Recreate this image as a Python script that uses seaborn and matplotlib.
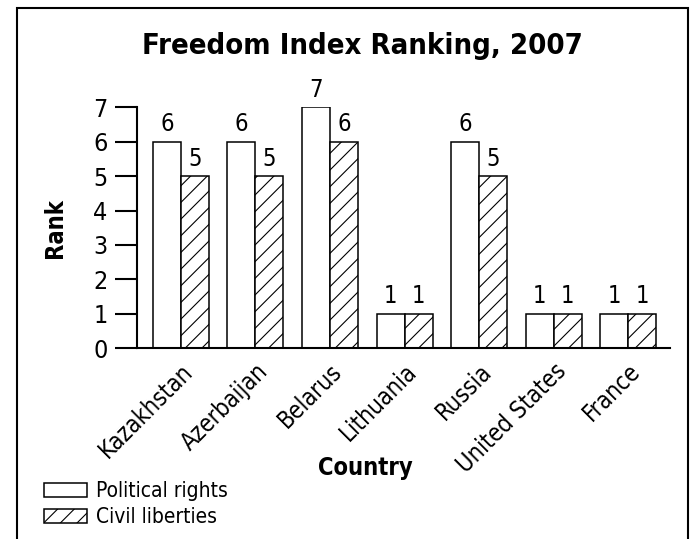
import matplotlib
matplotlib.use("Agg")
import matplotlib.pyplot as plt
from matplotlib.patches import Patch, Rectangle
import pandas as pd
import seaborn as sns

# Data
countries = ["Kazakhstan", "Azerbaijan", "Belarus", "Lithuania", "Russia", "United States", "France"]
political_rights = [6, 6, 7, 1, 6, 1, 1]
civil_liberties = [5, 5, 6, 1, 5, 1, 1]
series_names = ["Political rights", "Civil liberties"]
y_ticks = [0, 1, 2, 3, 4, 5, 6, 7]

df = pd.DataFrame({
    "Country": countries * 2,
    "Rank": political_rights + civil_liberties,
    "Series": [series_names[0]] * len(countries) + [series_names[1]] * len(countries),
})

sns.set_theme(style="white")
plt.rcParams["font.family"] = ["DejaVu Sans"]
plt.rcParams["font.stretch"] = "condensed"
plt.rcParams["text.color"] = "black"
plt.rcParams["axes.labelcolor"] = "black"
plt.rcParams["xtick.color"] = "black"
plt.rcParams["ytick.color"] = "black"
plt.rcParams["hatch.linewidth"] = 0.8

fig = plt.figure(figsize=(6.95, 5.39), dpi=100)
ax = fig.add_axes([0.197, 0.354, 0.767, 0.447])

sns.barplot(data=df, x="Country", y="Rank", hue="Series", order=countries,
            hue_order=series_names, palette=["white", "white"], width=0.75,
            edgecolor="black", linewidth=1.1, saturation=1, legend=False, ax=ax)

hatches = ["", "//"]
for cont, h in zip(ax.containers, hatches):
    for bar in cont:
        bar.set_hatch(h)
    ax.bar_label(cont, fontsize=17, padding=4)

ax.set_ylim(0, 7)
ax.set_xlim(-0.59, 6.56)
ax.set_yticks(y_ticks)
ax.tick_params(axis="y", which="both", left=True, length=16, width=1.5,
               labelsize=18, pad=5, direction="out", color="black")
ax.tick_params(axis="x", bottom=False, labelsize=17, pad=2)
plt.setp(ax.get_xticklabels(), rotation=45, ha="right", rotation_mode="anchor")

for side in ["top", "right"]:
    ax.spines[side].set_visible(False)
for side in ["left", "bottom"]:
    ax.spines[side].set_color("black")
    ax.spines[side].set_linewidth(1.5)

ax.set_xlabel("Country", fontsize=17, fontweight="bold")
ax.xaxis.set_label_coords(0.428, -0.498)
ax.xaxis.label.set_va("center")
ax.set_ylabel("Rank", fontsize=17, fontweight="bold", labelpad=19)
fig.text(0.522, 0.915, "Freedom Index Ranking, 2007", ha="center", va="center",
         fontsize=21, fontweight="bold")

handles = [Patch(facecolor="white", edgecolor="black", linewidth=1.1, hatch=h) for h in hatches]
fig.legend(handles, series_names, loc="lower left", bbox_to_anchor=(0.052, 0.006),
           frameon=False, fontsize=15, handlelength=2.05, handleheight=0.65,
           handletextpad=0.4, labelspacing=0.3, borderaxespad=0)

# outer frame of the printed figure (bottom edge is cropped off)
fig.patches.append(Rectangle((0.024, -0.05), 0.966, 1.035, transform=fig.transFigure,
                             fill=False, edgecolor="black", linewidth=1.5))

fig.savefig("out.png", dpi=100)
